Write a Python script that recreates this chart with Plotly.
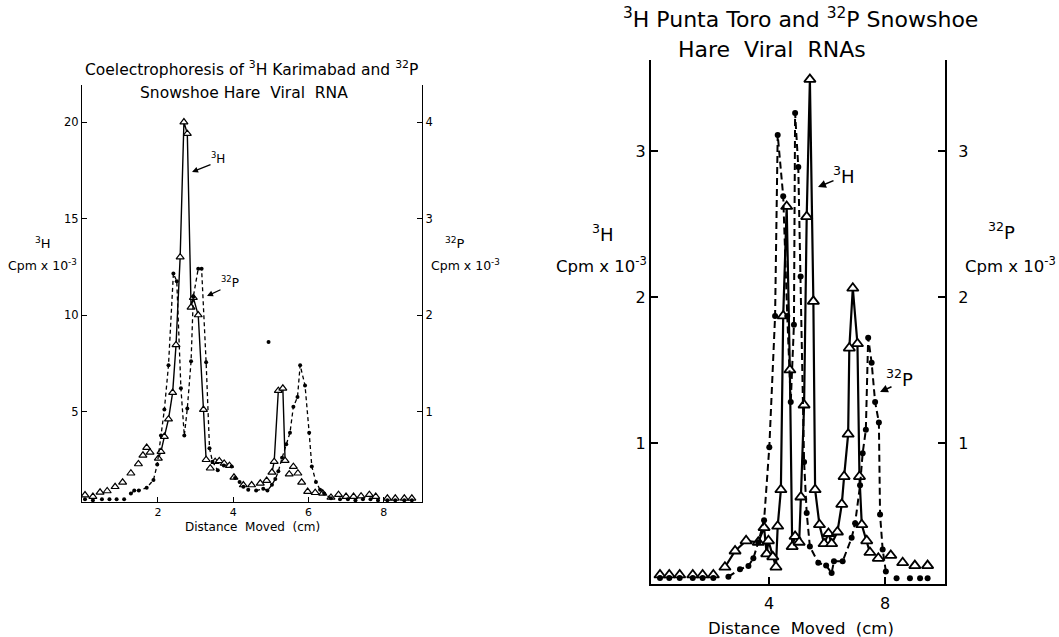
import numpy as np
import plotly.graph_objects as go

W, H = 1059, 637

# ---------------- data ----------------
# Left panel: 3H Karimabad (cpm x 10^-3, left axis) and 32P Snowshoe Hare (cpm x 10^-3, right axis)
LH_x = [0.06, 0.27, 0.46, 0.65, 0.86, 1.06, 1.28, 1.48, 1.60, 1.70, 1.79, 2.01, 2.08, 2.17, 2.28,
        2.39, 2.48, 2.59, 2.69, 2.78, 2.88, 2.94, 3.07, 3.21, 3.28, 3.39, 3.52, 3.63, 3.76, 3.90,
        4.02, 4.27, 4.49, 4.72, 4.89, 5.03, 5.09, 5.20, 5.32, 5.38, 5.49, 5.60, 5.72, 5.82, 5.98,
        6.18, 6.38, 6.60, 6.80, 7.00, 7.20, 7.40, 7.62, 7.79, 8.10, 8.31, 8.55, 8.75]
LH_y = [0.67, 0.59, 0.81, 0.88, 1.10, 1.33, 1.80, 2.28, 2.73, 3.13, 2.88, 2.57, 2.92, 3.70, 4.60,
        5.98, 8.45, 13.0, 20.0, 19.4, 10.4, 10.9, 10.0, 5.1, 2.5, 2.06, 2.40, 2.44, 2.31, 2.19,
        1.59, 1.19, 1.19, 1.28, 1.42, 1.85, 2.40, 6.08, 6.2, 2.45, 1.75, 2.14, 1.80, 1.33, 0.85,
        0.79, 0.76, 0.55, 0.69, 0.59, 0.59, 0.61, 0.69, 0.59, 0.50, 0.50, 0.50, 0.50]
LP_x = [0.06, 0.27, 0.51, 0.71, 0.90, 1.10, 1.28, 1.37, 1.49, 1.70, 1.88, 1.98, 2.08, 2.17, 2.28,
        2.41, 2.50, 2.61, 2.70, 2.78, 2.88, 2.94, 3.07, 3.16, 3.28, 3.37, 3.45, 3.59, 3.75, 3.96,
        4.05, 4.17, 4.27, 4.40, 4.61, 4.80, 4.91, 5.03, 5.12, 5.20, 5.30, 5.41, 5.51, 5.60, 5.71,
        5.78, 5.91, 6.02, 6.09, 6.20, 6.31, 6.42, 6.60, 6.84, 7.05, 7.25, 7.45, 7.65, 7.85, 8.10,
        8.31, 8.55, 8.75]
LP_y = [0.09, 0.08, 0.09, 0.09, 0.09, 0.09, 0.15, 0.18, 0.18, 0.21, 0.29, 0.45, 0.75, 1.02, 1.48,
        2.43, 2.35, 1.24, 0.75, 1.03, 1.52, 2.19, 2.48, 2.48, 1.51, 0.62, 0.48, 0.39, 0.44, 0.43,
        0.31, 0.27, 0.22, 0.19, 0.18, 0.20, 0.18, 0.24, 0.30, 0.38, 0.52, 0.66, 0.78, 1.05, 1.15,
        1.48, 1.27, 0.78, 0.43, 0.27, 0.19, 0.15, 0.10, 0.09, 0.09, 0.08, 0.09, 0.09, 0.08, 0.08,
        0.08, 0.08, 0.08]
LP_out_x = [4.94]
LP_out_y = [1.72]

# Right panel: 3H Punta Toro and 32P Snowshoe Hare (cpm x 10^-3)
RH_x = [0.24, 0.56, 0.92, 1.37, 1.71, 2.08, 2.48, 2.83, 3.21, 3.63, 3.83, 3.92, 3.98, 4.13, 4.24,
        4.30, 4.41, 4.49, 4.61, 4.72, 4.80, 4.90, 5.04, 5.10, 5.21, 5.30, 5.41, 5.53, 5.59, 5.74,
        5.90, 6.05, 6.16, 6.36, 6.51, 6.59, 6.73, 6.77, 6.89, 7.05, 7.12, 7.20, 7.37, 7.48, 7.77,
        8.20, 8.61, 9.03, 9.47]
RH_y = [0.096, 0.096, 0.096, 0.096, 0.096, 0.096, 0.149, 0.26, 0.33, 0.32, 0.42, 0.24, 0.33, 0.22, 0.15,
        0.43, 0.68, 1.87, 2.62, 1.50, 0.29, 0.36, 0.32, 0.63, 1.26, 2.55, 3.49, 1.97, 0.68, 0.44,
        0.31, 0.38, 0.31, 0.39, 0.58, 0.77, 1.06, 1.65, 2.06, 1.68, 0.77, 0.44, 0.33, 0.25, 0.21,
        0.23, 0.18, 0.16, 0.16]
RP_x = [0.24, 0.56, 0.92, 1.37, 1.71, 2.08, 2.60, 3.00, 3.29, 3.46, 3.63, 3.83, 4.01, 4.21, 4.30,
        4.49, 4.63, 4.75, 4.86, 4.90, 5.01, 5.09, 5.21, 5.30, 5.41, 5.70, 5.97, 6.16, 6.24, 6.54,
        6.85, 6.97, 7.14, 7.23, 7.34, 7.42, 7.54, 7.66, 7.79, 7.83, 7.92, 8.03, 8.40, 8.86, 9.21,
        9.47]
RP_y = [0.075, 0.075, 0.075, 0.075, 0.075, 0.075, 0.084, 0.135, 0.157, 0.21, 0.32, 0.47, 0.97, 1.87, 3.11,
        2.69, 1.87, 1.28, 1.81, 3.26, 2.89, 2.14, 0.87, 0.52, 0.29, 0.18, 0.16, 0.11, 0.19, 0.19,
        0.35, 0.45, 0.71, 0.93, 1.09, 1.72, 1.55, 1.28, 1.14, 0.51, 0.27, 0.12, 0.073, 0.073, 0.073,
        0.073]

LEFT_XTICKS = [2, 4, 6, 8]
LEFT_YTICKS = [5, 10, 15, 20]
LEFT_Y2TICKS = [1, 2, 3, 4]
RIGHT_XTICKS = [4, 8]
RIGHT_YTICKS = [1, 2, 3]

FONT = "DejaVu Sans"


def px(x):
    return x / W


def py(y):
    return 1 - y / H


def seg(xs, ys, ranges):
    xs = np.array(xs)
    ys = np.array(ys, dtype=float)
    keep = np.zeros(len(xs), dtype=bool)
    for a, b in ranges:
        keep |= (xs >= a) & (xs <= b)
    out = [float(v) if k else None for v, k in zip(ys, keep)]
    return list(xs), out


fig = go.Figure()

# ---- left panel ----
x, y = seg(LH_x, LH_y, [(1.95, 3.3), (5.0, 5.45)])
fig.add_trace(go.Scatter(x=x, y=y, mode="lines", line=dict(color="black", width=1.4),
                         connectgaps=False, xaxis="x", yaxis="y", showlegend=False))
x, y = seg(LP_x, LP_y, [(1.2, 3.65), (4.5, 6.7)])
fig.add_trace(go.Scatter(x=x, y=y, mode="lines", line=dict(color="black", width=1.3, dash="4px,3px"),
                         connectgaps=False, xaxis="x", yaxis="y2", showlegend=False))
fig.add_trace(go.Scatter(x=LP_x + LP_out_x, y=LP_y + LP_out_y, mode="markers",
                         marker=dict(symbol="circle", size=4, color="black"),
                         xaxis="x", yaxis="y2", showlegend=False))
fig.add_trace(go.Scatter(x=LH_x, y=LH_y, mode="markers",
                         marker=dict(symbol="triangle-up", size=7, color="white",
                                     line=dict(color="black", width=1.2)),
                         xaxis="x", yaxis="y", showlegend=False))

# ---- right panel ----
x, y = seg(RH_x, RH_y, [(2.4, 7.5)])
fig.add_trace(go.Scatter(x=x, y=y, mode="lines", line=dict(color="black", width=2.2),
                         connectgaps=False, xaxis="x2", yaxis="y3", showlegend=False))
x, y = seg(RP_x, RP_y, [(2.5, 8.1)])
fig.add_trace(go.Scatter(x=x, y=y, mode="lines", line=dict(color="black", width=2.0, dash="7px,4px"),
                         connectgaps=False, xaxis="x2", yaxis="y4", showlegend=False))
fig.add_trace(go.Scatter(x=RP_x, y=RP_y, mode="markers",
                         marker=dict(symbol="circle", size=6, color="black"),
                         xaxis="x2", yaxis="y4", showlegend=False))
fig.add_trace(go.Scatter(x=RH_x, y=RH_y, mode="markers",
                         marker=dict(symbol="triangle-up", size=10, color="white",
                                     line=dict(color="black", width=1.8)),
                         xaxis="x2", yaxis="y3", showlegend=False))

ax_common = dict(showline=True, linecolor="black", showgrid=False, zeroline=False,
                 ticks="inside", tickcolor="black")

L_dom_x = [px(82), px(422)]
L_dom_y = [py(502), py(85)]
R_dom_x = [px(651), px(945)]
R_dom_y = [py(584), py(60)]

fig.update_layout(
    width=W, height=H, margin=dict(l=0, r=0, t=0, b=0),
    paper_bgcolor="white", plot_bgcolor="white",
    font=dict(family=FONT, color="black"),
    xaxis=dict(domain=L_dom_x, range=[-0.02, 9.02], tickvals=LEFT_XTICKS, anchor="y",
               linewidth=1.3, ticklen=5, tickwidth=1.2, tickfont=dict(size=11), ticklabelstandoff=0,
               **ax_common),
    yaxis=dict(domain=L_dom_y, range=[0.31, 21.92], tickvals=LEFT_YTICKS, anchor="x",
               linewidth=1.3, ticklen=5, tickwidth=1.2, tickfont=dict(size=11.5), **ax_common),
    yaxis2=dict(range=[0.31 / 5, 21.92 / 5], tickvals=LEFT_Y2TICKS, overlaying="y", side="right",
                anchor="x", linewidth=1.3, ticklen=5, tickwidth=1.2, tickfont=dict(size=11.5), **ax_common),
    xaxis2=dict(domain=R_dom_x, range=[-0.07, 10.07], tickvals=RIGHT_XTICKS, anchor="y3",
                linewidth=2, ticklen=7, tickwidth=1.8, tickfont=dict(size=16), ticklabelstandoff=4,
                **ax_common),
    yaxis3=dict(domain=R_dom_y, range=[0.034, 3.623], tickvals=RIGHT_YTICKS, anchor="x2",
                linewidth=2, ticklen=7, tickwidth=1.8, tickfont=dict(size=16), **ax_common),
    yaxis4=dict(range=[0.034, 3.623], tickvals=RIGHT_YTICKS, overlaying="y3", side="right",
                anchor="x2", linewidth=2, ticklen=7, tickwidth=1.8, tickfont=dict(size=16),
                ticklabelstandoff=8, **ax_common),
)

ann = []


def text(t, x, y, size, xanchor="center"):
    ann.append(dict(text=t, x=px(x), y=py(y), xref="paper", yref="paper", showarrow=False,
                    xanchor=xanchor, yanchor="middle", font=dict(size=size, family=FONT, color="black")))


def arrow(hx, hy, tx, ty, w=1.2, size=1.0):
    ann.append(dict(text="", x=px(hx), y=py(hy), xref="paper", yref="paper", showarrow=True,
                    ax=tx - hx, ay=ty - hy, axref="pixel", ayref="pixel",
                    arrowhead=2, arrowsize=size, arrowwidth=w, arrowcolor="black", standoff=0))


# Left panel texts
text("Coelectrophoresis of <sup>3</sup>H Karimabad and <sup>32</sup>P", 251, 68, 15.5)
text("Snowshoe Hare  Viral  RNA", 244, 93, 15.5)
text("Distance  Moved  (cm)", 252, 527, 12)
text("<sup>3</sup>H", 43, 243, 13)
text("Cpm x 10<sup>-3</sup>", 42, 265, 12.5)
text("<sup>32</sup>P", 455, 243, 13)
text("Cpm x 10<sup>-3</sup>", 465, 265, 12.5)
text("<sup>3</sup>H", 218, 158, 12)
arrow(192, 172, 212, 164)
text("<sup>32</sup>P", 230, 282, 12)
arrow(207, 296, 222, 289)

# Right panel texts
text("<sup>3</sup>H Punta Toro and <sup>32</sup>P Snowshoe", 800, 18, 22)
text("Hare  Viral  RNAs", 772, 50, 22)
text("Distance  Moved  (cm)", 801, 628, 16.5)
text("<sup>3</sup>H", 603, 233, 18)
text("Cpm x 10<sup>-3</sup>", 601, 265, 16.5)
text("<sup>32</sup>P", 1001, 231, 18)
text("Cpm x 10<sup>-3</sup>", 1010, 265, 16.5)
text("<sup>3</sup>H", 844, 175, 18)
arrow(818, 187, 835, 180, w=1.6)
text("<sup>32</sup>P", 899, 378, 18)
arrow(880, 392, 893, 386, w=1.6)

fig.update_layout(annotations=ann)

fig.write_html("out.html")
